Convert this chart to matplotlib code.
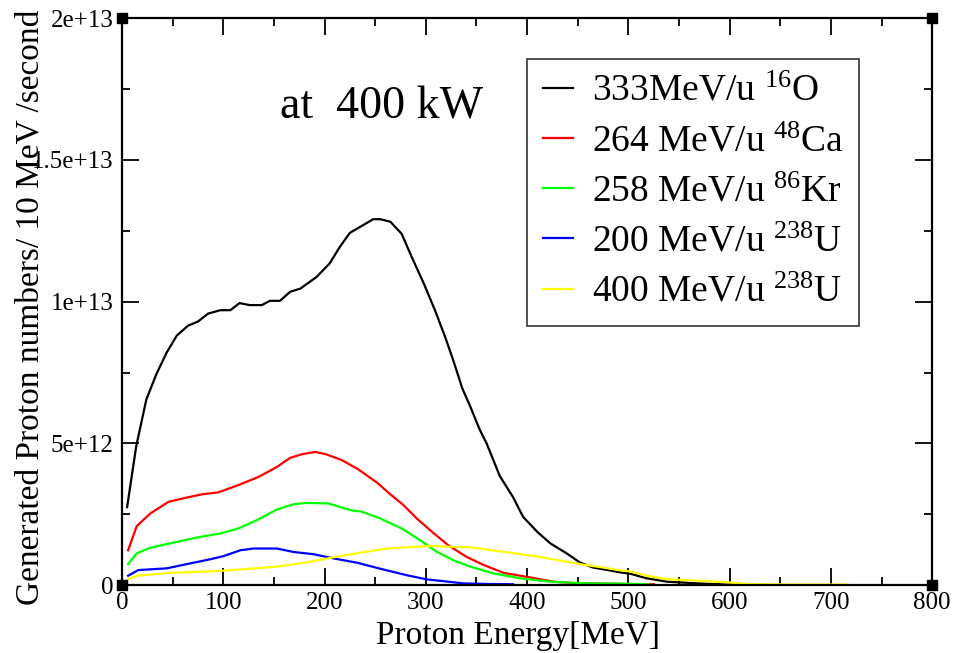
import numpy as np
import matplotlib.pyplot as plt
from matplotlib.ticker import MultipleLocator

plt.rcParams['font.family'] = ['Liberation Serif', 'DejaVu Serif']
plt.rcParams['mathtext.fontset'] = 'custom'
plt.rcParams['mathtext.rm'] = 'Liberation Serif'
plt.rcParams['mathtext.it'] = 'Liberation Serif:italic'

# proton energy [MeV] and yield [1e12 / 10 MeV / s]
e_o16 = [5, 14, 24, 34, 44, 54, 65, 75, 85, 97, 107, 116, 126, 138, 146, 156, 166, 176,
         192, 205, 215, 225, 238, 248, 255, 265, 276, 286, 298, 309, 319, 327, 336, 344,
         353, 360, 373, 386, 396, 410, 423, 439, 452, 465, 475, 492, 502, 518, 538, 568,
         597, 615]
y_o16 = [2.75, 4.9, 6.55, 7.45, 8.2, 8.8, 9.15, 9.3, 9.58, 9.7, 9.7, 9.95, 9.88, 9.88, 10.03,
         10.03, 10.35, 10.46, 10.87, 11.35, 11.93, 12.43, 12.70, 12.91, 12.91, 12.82, 12.40,
         11.58, 10.64, 9.70, 8.76, 7.94, 6.94, 6.29, 5.5, 5.0, 3.85, 3.11, 2.41, 1.88, 1.47,
         1.12, 0.80, 0.62, 0.56, 0.45, 0.40, 0.24, 0.12, 0.06, 0.02, 0.01]

e_ca48 = [6, 14.5, 28, 46, 64, 80, 95, 115, 135, 153, 166, 178, 191, 202, 217, 233, 252,
          266, 278, 291, 306, 322, 340, 357, 377, 400, 426, 452, 480, 510, 525]
y_ca48 = [1.23, 2.08, 2.53, 2.94, 3.09, 3.21, 3.27, 3.53, 3.82, 4.17, 4.49, 4.62, 4.70, 4.61,
          4.41, 4.09, 3.61, 3.17, 2.82, 2.35, 1.88, 1.41, 1.00, 0.71, 0.43, 0.29, 0.12, 0.06,
          0.05, 0.03, 0.03]

e_kr86 = [6, 14.5, 28, 47, 74, 97, 115, 133, 153, 169, 182, 204, 220, 229, 236, 255, 276,
          294, 311, 327, 344, 367, 393, 423, 459, 492, 520]
y_kr86 = [0.74, 1.12, 1.32, 1.47, 1.68, 1.82, 2.0, 2.29, 2.67, 2.85, 2.90, 2.88, 2.70, 2.62,
          2.60, 2.35, 2.0, 1.59, 1.17, 0.88, 0.65, 0.41, 0.24, 0.12, 0.06, 0.05, 0.03]

e_u200 = [6, 16, 44, 64, 87, 100, 117, 130, 153, 169, 189, 209, 232, 258, 281, 301, 317,
          337, 360, 386]
y_u200 = [0.33, 0.53, 0.59, 0.74, 0.91, 1.02, 1.23, 1.29, 1.29, 1.17, 1.09, 0.94, 0.79, 0.55,
          0.35, 0.20, 0.14, 0.06, 0.04, 0.03]

e_u400 = [6, 14.5, 47, 97, 153, 182, 212, 235, 261, 288, 304, 344, 377, 400, 426, 452, 475,
          492, 502, 518, 538, 571, 597, 617, 656, 716]
y_u400 = [0.21, 0.33, 0.43, 0.50, 0.65, 0.80, 1.00, 1.14, 1.29, 1.35, 1.38, 1.33, 1.17, 1.06,
          0.91, 0.74, 0.62, 0.52, 0.48, 0.33, 0.21, 0.15, 0.10, 0.04, 0.02, 0.02]

labels = [r'333MeV/u $^{\mathrm{16}}$O', r'264 MeV/u $^{\mathrm{48}}$Ca',
          r'258 MeV/u $^{\mathrm{86}}$Kr', r'200 MeV/u $^{\mathrm{238}}$U',
          r'400 MeV/u $^{\mathrm{238}}$U']
colors = ['black', 'red', '#00ff00', 'blue', '#ffff00']

yticks = [0, 5e12, 1e13, 1.5e13, 2e13]
ytick_labels = ['0', '5e+12', '1e+13', '1.5e+13', '2e+13']

fig = plt.figure(figsize=(9.61, 6.53), dpi=100)
ax = fig.add_axes([0.127, 0.104, 0.843, 0.868])

series = [(e_o16, y_o16), (e_ca48, y_ca48), (e_kr86, y_kr86), (e_u200, y_u200), (e_u400, y_u400)]
for (e, y), lab, c in zip(series, labels, colors):
    ax.plot(e, np.array(y) * 1e12, color=c, lw=1.6, label=lab)

ax.set_xlim(0, 800)
ax.set_ylim(0, 2e13)
ax.xaxis.set_major_locator(MultipleLocator(100))
ax.xaxis.set_minor_locator(MultipleLocator(50))
ax.set_yticks(yticks, ytick_labels)
ax.yaxis.set_minor_locator(MultipleLocator(2.5e12))
ax.tick_params(which='both', direction='in', top=True, right=True, width=1.3, labelsize=18)
ax.tick_params(which='major', length=12)
ax.tick_params(which='minor', length=6)
ax.tick_params(axis='x', pad=5)
ax.tick_params(axis='y', pad=6)
for s in ax.spines.values():
    s.set_linewidth(1.6)

# corner squares (xmgrace style)
ax.plot([0, 1, 0, 1], [0, 0, 1, 1], 's', color='black', ms=7, transform=ax.transAxes,
        clip_on=False)

ax.set_xlabel('Proton Energy[MeV]', fontsize=24)
ax.xaxis.set_label_coords(0.489, -0.063)
ax.set_ylabel('Generated Proton numbers/ 10 MeV /second', fontsize=24)
ax.yaxis.set_label_coords(-0.095, 0.49)

ax.text(0.195, 0.824, 'at  400 kW', fontsize=33, transform=ax.transAxes, va='baseline')

leg = ax.legend(loc='upper left', bbox_to_anchor=(0.5, 0.929), borderaxespad=0,
                fontsize=27, handlelength=0.8, handletextpad=0.5, labelspacing=0.42,
                fancybox=False, framealpha=1, borderpad=0.42)
leg.get_frame().set_edgecolor('#333333')
leg.get_frame().set_linewidth(1.2)
for line in leg.get_lines():
    line.set_linewidth(1.6)

fig.savefig('out.png', dpi=100)
